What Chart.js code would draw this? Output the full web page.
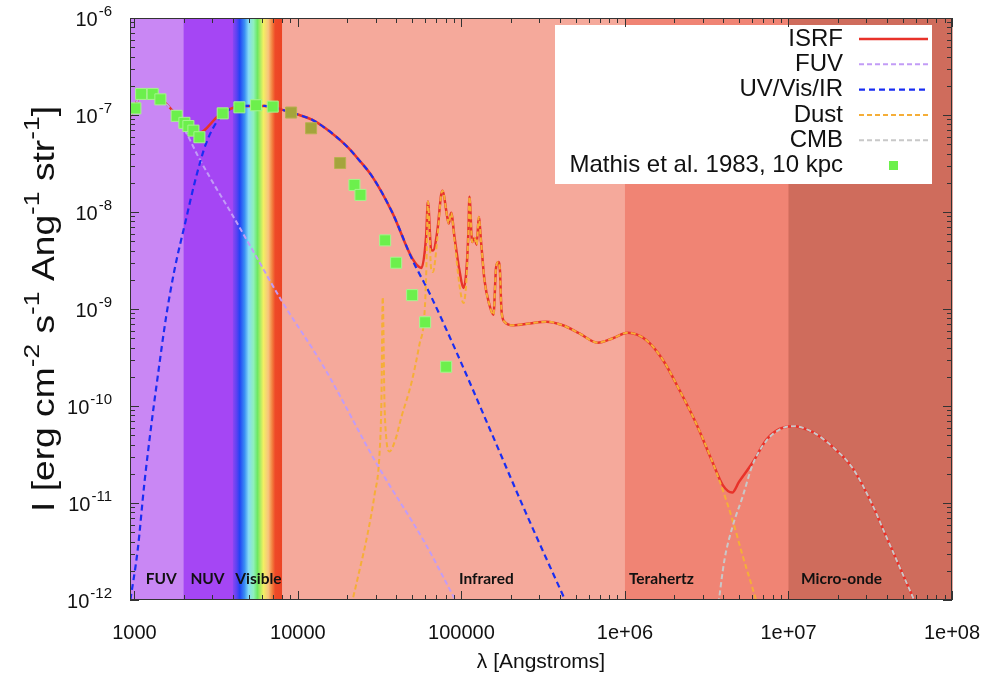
<!DOCTYPE html>
<html>
<head>
<meta charset="utf-8">
<script src="https://cdn.jsdelivr.net/npm/chart.js@4.4.1/dist/chart.umd.min.js"></script>
<style>
  html, body { margin: 0; background: #fff; }
</style>
</head>
<body>
<canvas id="isrf" width="995" height="682"></canvas>
<script>
// --- données (lambda en Angstroms, I en erg cm-2 s-1 Ang-1 str-1)
const isrfLambda = [940, 1073, 1235, 1422, 1806, 2080, 2463, 3311, 4206, 5268, 6240, 8037, 10210, 12270, 15580, 19800, 23770, 28560, 37840, 50150, 56930, 60810, 62380, 65260, 66930, 71330, 75130, 76850, 80620, 83620, 86500, 90600, 97220, 102850, 107300, 110380, 111940, 116270, 120110, 124060, 127600, 131990, 138270, 148370, 156940, 163000, 168400, 171990, 175640, 183230, 205980, 260570, 329600, 416600, 526800, 681700, 842200, 1040000, 1348000, 1703000, 2154000, 2726000, 3443000, 3964000, 4527000, 4980000, 6023000, 7335000, 8810000, 1.058e7, 1.402e7, 1.858e7, 2.463e7, 3.218e7, 3.92e7, 4.775e7, 5.98e7];
const isrfI = [9.5e-8, 1.53e-7, 1.77e-7, 1.53e-7, 1.0e-7, 7.5e-8, 6.5e-8, 1.0e-7, 1.21e-7, 1.24e-7, 1.24e-7, 1.13e-7, 1.0e-7, 8.9e-8, 6.8e-8, 4.8e-8, 3.4e-8, 2.3e-8, 9.8e-9, 3.3e-9, 2.65e-9, 5.6e-9, 1.28e-8, 4.1e-9, 4.0e-9, 6.5e-9, 1.5e-8, 1.66e-8, 1.05e-8, 7.6e-9, 9.8e-9, 5.6e-9, 2.5e-9, 1.65e-9, 2.5e-9, 6.5e-9, 1.44e-8, 4.9e-9, 5.4e-9, 4.6e-9, 8.9e-9, 4.8e-9, 2.0e-9, 1.1e-9, 8.7e-10, 2.7e-9, 3.05e-9, 2.5e-9, 9.8e-10, 7.4e-10, 6.8e-10, 7.1e-10, 7.4e-10, 6.8e-10, 5.6e-10, 4.5e-10, 5.0e-10, 5.7e-10, 4.8e-10, 3.0e-10, 1.46e-10, 6.6e-11, 2.6e-11, 1.53e-11, 1.28e-11, 1.65e-11, 2.6e-11, 4.5e-11, 5.8e-11, 6.2e-11, 5.4e-11, 3.8e-11, 2.3e-11, 1.0e-11, 4.7e-12, 2.2e-12, 9.3e-13];

const fuvLambda = [940, 1073, 1235, 1422, 1806, 2080, 2463, 2957, 3811, 5173, 7894, 14530, 30640, 59390, 93200];
const fuvI = [9.5e-8, 1.53e-7, 1.77e-7, 1.53e-7, 9.6e-8, 6.5e-8, 3.7e-8, 2.14e-8, 1.05e-8, 4.3e-9, 1.24e-9, 2.46e-10, 2.46e-11, 3.96e-12, 9.5e-13];

const uvLambda = [945, 1048, 1151, 1265, 1388, 1563, 1756, 2051, 2385, 2745, 3311, 3976, 4842, 6240, 8037, 10210, 12270, 15580, 19800, 23770, 28560, 37840, 50150, 63730, 93200, 148370, 246300, 438600];
const uvI = [1.0e-12, 3.3e-12, 1.6e-11, 6.1e-11, 2.0e-10, 8.3e-10, 2.5e-9, 7.9e-9, 2.3e-8, 5.1e-8, 9.3e-8, 1.18e-7, 1.24e-7, 1.24e-7, 1.13e-7, 1.0e-7, 8.9e-8, 6.8e-8, 4.8e-8, 3.4e-8, 2.3e-8, 9.8e-9, 3.2e-9, 1.46e-9, 3.6e-10, 5.9e-11, 8.1e-12, 9.3e-13];

const dustLambda = [21240, 23770, 26610, 29380, 31510, 32410, 33010, 33810, 34770, 36270, 39470, 42950, 49450, 55350, 59390, 60940, 62380, 65260, 66930, 71330, 75130, 76850, 80620, 83620, 86500, 90600, 97220, 102850, 107300, 110380, 111940, 116270, 120110, 124060, 127600, 131990, 138270, 148370, 156940, 163000, 168400, 171990, 175640, 183230, 205980, 260570, 329600, 416600, 526800, 681700, 842200, 1040000, 1348000, 1703000, 2154000, 2726000, 3443000, 3964000, 4546000, 5233000, 6023000, 6462000];
const dustI = [8.9e-13, 2.0e-12, 4.7e-12, 1.2e-11, 3.1e-11, 1.15e-10, 1.33e-9, 1.15e-10, 4.5e-11, 3.4e-11, 4.5e-11, 7.7e-11, 1.73e-10, 4.3e-10, 8.7e-10, 2.4e-9, 1.28e-8, 2.6e-9, 2.4e-9, 5.5e-9, 1.5e-8, 1.66e-8, 1.05e-8, 7.6e-9, 9.8e-9, 5.2e-9, 1.77e-9, 1.15e-9, 2.0e-9, 6.3e-9, 1.44e-8, 4.9e-9, 5.4e-9, 4.6e-9, 8.9e-9, 4.8e-9, 2.0e-9, 1.1e-9, 8.7e-10, 2.7e-9, 3.05e-9, 2.5e-9, 9.8e-10, 7.4e-10, 6.8e-10, 7.1e-10, 7.4e-10, 6.8e-10, 5.6e-10, 4.5e-10, 5.0e-10, 5.7e-10, 4.8e-10, 3.0e-10, 1.46e-10, 6.6e-11, 2.6e-11, 1.36e-11, 6.7e-12, 2.9e-12, 1.33e-12, 8.9e-13];

const cmbLambda = [3732000, 4062000, 4546000, 5233000, 6023000, 7335000, 8810000, 1.058e7, 1.402e7, 1.858e7, 2.463e7, 3.218e7, 3.92e7, 4.775e7, 5.98e7];
const cmbI = [9.3e-13, 2.6e-12, 5.7e-12, 1.15e-11, 2.46e-11, 4.4e-11, 5.7e-11, 6.2e-11, 5.4e-11, 3.8e-11, 2.3e-11, 1.0e-11, 4.7e-12, 2.2e-12, 9.3e-13];

// Mathis et al. 1983, 10 kpc
const mathisLambda = [1014, 1099, 1294, 1442, 1814, 2022, 2139, 2296, 2498, 3468, 4387, 5550, 7014, 9087, 12040, 18120, 22160, 24120, 34150, 39870, 49940, 59980, 80620];
const mathisI = [1.17e-7, 1.65e-7, 1.65e-7, 1.45e-7, 9.8e-8, 8.3e-8, 7.7e-8, 6.9e-8, 5.9e-8, 1.04e-7, 1.2e-7, 1.26e-7, 1.22e-7, 1.06e-7, 7.3e-8, 3.2e-8, 1.9e-8, 1.5e-8, 5.1e-9, 3.0e-9, 1.39e-9, 7.3e-10, 2.54e-10];

// domaines spectraux
const bandNames = ['FUV', 'NUV', 'Visible', 'Infrared', 'Terahertz', 'Micro-onde'];
const bandEdges = [940, 2000, 4000, 8000, 1e6, 1e7, 1e8];
const bandLabelAt = [1460, 2800, 5730, 142000, 1670000, 21100000];

// graduations
const xTickValues = [1000, 10000, 100000, 1e6, 1e7, 1e8];
const xTickLabels = ['1000', '10000', '100000', '1e+06', '1e+07', '1e+08'];
const yTickExps = [-6, -7, -8, -9, -10, -11, -12];

const FONT = "'Liberation Sans', Arial, Helvetica, sans-serif";
const bandColors = ['#c987f4', '#a546f4', 'rainbow', '#f5a99b', '#f08474', '#cf6c5c'];
const rainbowStops = [
  [0.00, '#8c46f2'], [0.08, '#5a42f2'], [0.14, '#2244f4'], [0.24, '#3a90f4'],
  [0.32, '#86dcf4'], [0.42, '#8ef0bc'], [0.50, '#6ee862'], [0.62, '#f2f062'],
  [0.72, '#f8c47c'], [0.80, '#f2803e'], [0.86, '#ee4a28'], [1.00, '#ec4424']
];

const pts = (xs, ys) => xs.map((x, i) => ({ x: x, y: ys[i] }));
const oliveIdx = [13, 14, 15];

// fonds colorés (avant les courbes)
const bandsPlugin = {
  id: 'bands',
  beforeDatasetsDraw(chart) {
    const { ctx, chartArea: a, scales: { x } } = chart;
    ctx.save();
    for (let i = 0; i < bandColors.length; i++) {
      const x0 = x.getPixelForValue(bandEdges[i]);
      const x1 = x.getPixelForValue(bandEdges[i + 1]);
      let fill = bandColors[i];
      if (fill === 'rainbow') {
        const g = ctx.createLinearGradient(x0, 0, x1, 0);
        rainbowStops.forEach(s => g.addColorStop(s[0], s[1]));
        fill = g;
      }
      ctx.fillStyle = fill;
      ctx.fillRect(x0, a.top, x1 - x0 + 0.6, a.bottom - a.top);
    }
    ctx.restore();
  }
};

// étiquettes, légende, cadre, graduations
const decoPlugin = {
  id: 'deco',
  afterDatasetsDraw(chart) {
    const { ctx, chartArea: a, scales: { x, y } } = chart;
    ctx.save();

    // noms des domaines
    ctx.fillStyle = '#111';
    ctx.font = "bold 15.5px Lato, 'Open Sans', sans-serif";
    ctx.textAlign = 'center';
    ctx.textBaseline = 'middle';
    bandNames.forEach((n, i) => ctx.fillText(n, x.getPixelForValue(bandLabelAt[i]), a.bottom - 21));

    // légende
    const L = a.right - 397, T = a.top + 7;
    ctx.fillStyle = '#fff';
    ctx.fillRect(L, T, 377, 159);
    ctx.font = '24px ' + FONT;
    ctx.textAlign = 'right';
    chart.data.datasets.forEach((ds, i) => {
      const ry = T + 14 + i * 25.3;
      ctx.fillStyle = '#111';
      ctx.fillText(ds.label, a.right - 109, ry);
      if (ds.showLine === false) {
        ctx.fillStyle = '#6cf04c';
        ctx.fillRect(a.right - 63, ry - 4.5, 9, 9);
      } else {
        ctx.strokeStyle = ds.borderColor;
        ctx.lineWidth = ds.borderWidth;
        ctx.setLineDash(ds.borderDash || []);
        ctx.beginPath();
        ctx.moveTo(a.right - 93, ry);
        ctx.lineTo(a.right - 24, ry);
        ctx.stroke();
        ctx.setLineDash([]);
      }
    });

    // cadre et graduations intérieures (haut/bas/gauche/droite)
    ctx.strokeStyle = '#333';
    ctx.lineWidth = 1;
    ctx.strokeRect(a.left + 0.5, a.top + 0.5, a.right - a.left - 1, a.bottom - a.top - 1);
    ctx.beginPath();
    for (let d = 2; d <= 8; d++) {
      for (let m = 1; m <= 9; m++) {
        const v = m * Math.pow(10, d);
        if (v < x.min || v > x.max) continue;
        const px = Math.round(x.getPixelForValue(v)) + 0.5;
        const len = m === 1 ? 9 : 5;
        ctx.moveTo(px, a.bottom); ctx.lineTo(px, a.bottom - len);
        ctx.moveTo(px, a.top); ctx.lineTo(px, a.top + len);
      }
    }
    for (let d = -12; d <= -6; d++) {
      for (let m = 1; m <= 9; m++) {
        const v = m * Math.pow(10, d);
        if (v < y.min * 0.999 || v > y.max * 1.001) continue;
        const py = Math.round(y.getPixelForValue(v)) + 0.5;
        const len = m === 1 ? 9 : 5;
        ctx.moveTo(a.left, py); ctx.lineTo(a.left + len, py);
        ctx.moveTo(a.right, py); ctx.lineTo(a.right - len, py);
      }
    }
    ctx.stroke();
    ctx.restore();
  },
  afterDraw(chart) {
    const { ctx, chartArea: a, scales: { x, y } } = chart;
    ctx.save();
    ctx.fillStyle = '#111';
    ctx.textBaseline = 'middle';

    // x
    ctx.font = '20px ' + FONT;
    ctx.textAlign = 'center';
    xTickValues.forEach((v, i) => ctx.fillText(xTickLabels[i], x.getPixelForValue(v), a.bottom + 33));
    ctx.font = '21px ' + FONT;
    ctx.fillText('\u03bb [Angstroms]', (a.left + a.right) / 2, a.bottom + 62);

    // y
    yTickExps.forEach(e => {
      const py = y.getPixelForValue(Math.pow(10, e));
      const sup = String(e);
      ctx.font = '15px ' + FONT;
      const w = ctx.measureText(sup).width;
      ctx.textAlign = 'right';
      ctx.fillText(sup, a.left - 18, py - 6);
      ctx.font = '20px ' + FONT;
      ctx.fillText('10', a.left - 19 - w, py + 2);
    });

    // titre y avec exposants
    const parts = [['I [erg cm', 0], ['-2', 1], [' s', 0], ['-1', 1], [' Ang', 0], ['-1', 1], [' str', 0], ['-1', 1], [']', 0]];
    const fnt = s => (s ? '22px ' : '31px ') + FONT;
    let total = 0;
    parts.forEach(p => { ctx.font = fnt(p[1]); total += ctx.measureText(p[0]).width; });
    ctx.translate(45, (a.top + a.bottom) / 2);
    ctx.rotate(-Math.PI / 2);
    ctx.scale(1.2, 1);
    ctx.textAlign = 'left';
    let cx = -total / 2;
    parts.forEach(p => {
      ctx.font = fnt(p[1]);
      ctx.fillText(p[0], cx, p[1] ? -12 : 0);
      cx += ctx.measureText(p[0]).width;
    });
    ctx.restore();
  }
};

const lineDefaults = { pointRadius: 0, fill: false, cubicInterpolationMode: 'monotone' };

new Chart(document.getElementById('isrf').getContext('2d'), {
  type: 'line',
  data: {
    datasets: [
      Object.assign({ label: 'ISRF', data: pts(isrfLambda, isrfI), borderColor: '#e8322a', borderWidth: 2.5, order: 6 }, lineDefaults),
      Object.assign({ label: 'FUV', data: pts(fuvLambda, fuvI), borderColor: '#c29cf6', borderWidth: 2, borderDash: [5, 3], order: 5 }, lineDefaults),
      Object.assign({ label: 'UV/Vis/IR', data: pts(uvLambda, uvI), borderColor: '#1a2ef2', borderWidth: 2.2, borderDash: [6, 4], order: 4 }, lineDefaults),
      Object.assign({ label: 'Dust', data: pts(dustLambda, dustI), borderColor: '#f5ae38', borderWidth: 2, borderDash: [5, 3], order: 3 }, lineDefaults),
      Object.assign({ label: 'CMB', data: pts(cmbLambda, cmbI), borderColor: '#c8c8c8', borderWidth: 2, borderDash: [5, 3], order: 2 }, lineDefaults),
      {
        label: 'Mathis et al. 1983, 10 kpc',
        data: pts(mathisLambda, mathisI),
        showLine: false,
        pointStyle: 'rect',
        pointRadius: 7.8,
        pointBackgroundColor: mathisLambda.map((_, i) => oliveIdx.includes(i) ? '#a4a43c' : '#6cf04c'),
        pointBorderColor: mathisLambda.map((_, i) => oliveIdx.includes(i) ? '#b8b050' : '#a6f58e'),
        pointBorderWidth: 1,
        order: 1
      }
    ]
  },
  options: {
    responsive: false,
    animation: false,
    layout: { padding: { left: 130, right: 43, top: 18, bottom: 82 } },
    scales: {
      x: { type: 'logarithmic', min: 940, max: 1e8, display: false },
      y: { type: 'logarithmic', min: 1e-12, max: 1e-6, display: false }
    },
    plugins: { legend: { display: false }, tooltip: { enabled: false } }
  },
  plugins: [bandsPlugin, decoPlugin]
});
</script>
</body>
</html>
